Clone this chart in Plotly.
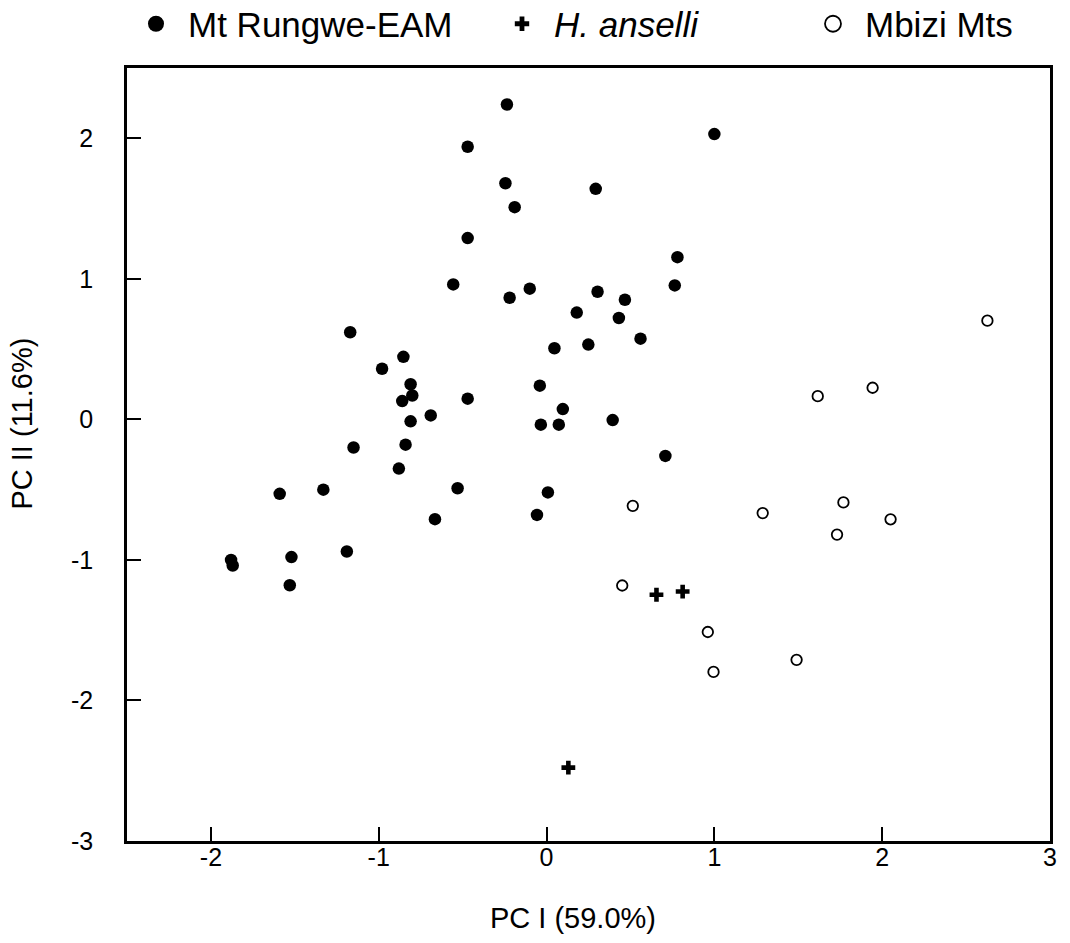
import plotly.graph_objects as go

# Mt Rungwe-EAM (filled circles)
rungwe_x = [-0.236, 1.00, -0.47, -0.245, 0.293, -0.19, -0.47, 0.78, -0.556, -0.22,
            -0.10, 0.764, 0.304, 0.467, 0.18, 0.431, -1.17, 0.047, 0.249, 0.56,
            -0.853, -0.98, -0.81, -0.80, -0.86, -0.47, -0.04, 0.097, -0.69, -0.81,
            -0.034, 0.073, 0.394, 0.708, -1.15, -0.84, -0.88, -1.59, -1.33, -0.53,
            0.008, -0.665, -0.057, -1.88, -1.87, -1.52, -1.19, -1.53]
rungwe_y = [2.24, 2.03, 1.94, 1.68, 1.64, 1.51, 1.29, 1.154, 0.96, 0.865,
            0.93, 0.953, 0.908, 0.851, 0.76, 0.721, 0.62, 0.506, 0.532, 0.574,
            0.445, 0.36, 0.25, 0.17, 0.13, 0.147, 0.24, 0.073, 0.028, -0.014,
            -0.038, -0.038, -0.005, -0.26, -0.20, -0.18, -0.35, -0.53, -0.50, -0.49,
            -0.52, -0.71, -0.68, -1.00, -1.04, -0.98, -0.94, -1.18]

# H. anselli (plus)
anselli_x = [0.13, 0.655, 0.811]
anselli_y = [-2.478, -1.248, -1.225]

# Mbizi Mts (open circles)
mbizi_x = [2.627, 1.943, 1.616, 0.514, 1.288, 1.769, 2.05, 1.731, 0.451, 0.961, 1.49, 0.995]
mbizi_y = [0.702, 0.225, 0.165, -0.615, -0.667, -0.591, -0.711, -0.82, -1.182, -1.513, -1.711, -1.797]

group_names = ["Mt Rungwe-EAM", "<i>H. anselli</i>", "Mbizi Mts"]
x_ticks = [-2, -1, 0, 1, 2, 3]
y_ticks = [-3, -2, -1, 0, 1, 2]

FONT = "Liberation Sans, Arial, sans-serif"
W, H = 1062, 935   # page body has an 8px margin

fig = go.Figure()

fig.add_trace(go.Scatter(x=rungwe_x, y=rungwe_y, mode="markers", showlegend=False,
                         marker=dict(symbol="circle", size=12.5, color="black",
                                     line=dict(width=0))))
fig.add_trace(go.Scatter(x=anselli_x, y=anselli_y, mode="markers", showlegend=False,
                         marker=dict(symbol="cross", size=11.5, color="black",
                                     line=dict(width=0))))
fig.add_trace(go.Scatter(x=mbizi_x, y=mbizi_y, mode="markers", showlegend=False,
                         marker=dict(symbol="circle-open", size=10.5, color="black",
                                     line=dict(width=1.8, color="black"))))

# legend-only entries
fig.add_trace(go.Scatter(x=[None], y=[None], mode="markers", name=group_names[0],
                         legend="legend",
                         marker=dict(symbol="circle", size=18, color="black")))
fig.add_trace(go.Scatter(x=[None], y=[None], mode="markers", name=group_names[1],
                         legend="legend2",
                         marker=dict(symbol="cross", size=12, color="black")))
fig.add_trace(go.Scatter(x=[None], y=[None], mode="markers", name=group_names[2],
                         legend="legend3",
                         marker=dict(symbol="circle-open", size=16, color="black",
                                     line=dict(width=1.8, color="black"))))

legend_common = dict(xref="container", yref="paper", yanchor="middle", xanchor="left",
                     y=1.0569,
                     font=dict(family=FONT, size=35, color="black"),
                     bgcolor="rgba(0,0,0,0)", borderwidth=0, itemwidth=54)

fig.update_layout(
    width=W, height=H,
    margin=dict(l=119, r=20, t=60, b=102, autoexpand=False),
    paper_bgcolor="white", plot_bgcolor="white",
    font=dict(family=FONT, color="black"),
    legend=dict(x=(124 - 8) / W, **legend_common),
    legend2=dict(x=(490 - 8) / W, **legend_common),
    legend3=dict(x=(801 - 8) / W, **legend_common),
    xaxis=dict(range=[-2.5, 3], tickvals=x_ticks, ticktext=[str(v) for v in x_ticks],
               ticks="inside", ticklen=14, tickwidth=2, tickcolor="black",
               showline=True, linewidth=2.5, linecolor="black", mirror=True,
               showgrid=False, zeroline=False, automargin=False, ticklabelstandoff=-8,
               tickfont=dict(family=FONT, size=25, color="black")),
    yaxis=dict(range=[-3, 2.5], tickvals=y_ticks, ticktext=[str(v) for v in y_ticks],
               ticks="inside", ticklen=14, tickwidth=2, tickcolor="black",
               showline=True, linewidth=2.5, linecolor="black", mirror=True,
               showgrid=False, zeroline=False, ticklabelstandoff=26, automargin=False,
               tickfont=dict(family=FONT, size=25, color="black")),
    annotations=[
        dict(text="PC I (59.0%)", xref="paper", yref="paper", x=0.483, y=-0.0996,
             xanchor="center", yanchor="middle", showarrow=False,
             font=dict(family=FONT, size=29, color="black")),
        dict(text="PC II (11.6%)", xref="paper", yref="paper", x=-0.1138, y=0.54,
             xanchor="center", yanchor="middle", showarrow=False, textangle=-90,
             font=dict(family=FONT, size=29, color="black")),
    ],
)

fig.write_html("out.html")
